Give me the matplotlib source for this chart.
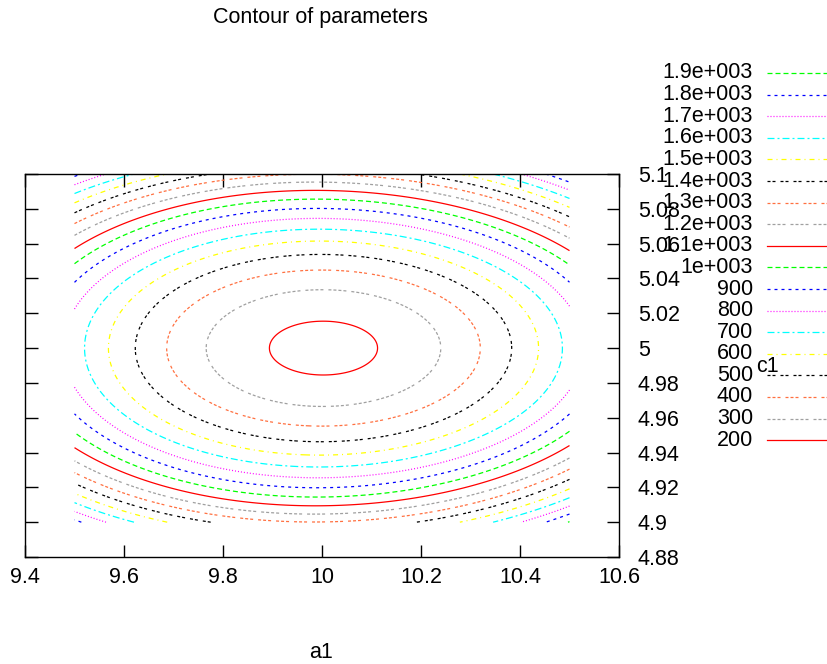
import numpy as np
import matplotlib
matplotlib.use("Agg")
import matplotlib.pyplot as plt
from matplotlib.lines import Line2D

plt.rcParams['font.family'] = ['Liberation Sans', 'DejaVu Sans']
plt.rcParams['lines.scale_dashes'] = False

# ---- data -------------------------------------------------------------
a1_range = [9.5, 10.5]
c1_range = [4.9, 5.1]
# quadratic-bowl parameters
z_min = 173.0
a1_center = 10.003
c1_center = 5.0
curv_a1 = 2262.0
curv_c1 = 113000.0
curv_c1_slope = 9100.0

levels = [200, 300, 400, 500, 600, 700, 800, 900, 1000, 1100,
          1200, 1300, 1400, 1500, 1600, 1700, 1800, 1900]
level_labels = ['200', '300', '400', '500', '600', '700', '800', '900', '1e+003',
                '1.1e+003', '1.2e+003', '1.3e+003', '1.4e+003', '1.5e+003',
                '1.6e+003', '1.7e+003', '1.8e+003', '1.9e+003']
x_ticks = [9.4, 9.6, 9.8, 10.0, 10.2, 10.4, 10.6]
x_tick_labels = ['9.4', '9.6', '9.8', '10', '10.2', '10.4', '10.6']
y_ticks = [4.88, 4.90, 4.92, 4.94, 4.96, 4.98, 5.00, 5.02, 5.04, 5.06, 5.08, 5.10]
y_tick_labels = ['4.88', '4.9', '4.92', '4.94', '4.96', '4.98', '5', '5.02',
                 '5.04', '5.06', '5.08', '5.1']

# ---- styles (gnuplot line types cycle) --------------------------------
px = 72.0 / 100.0
style_cycle = [
    ('#ff0000', None),
    ('#a0a0a0', (3, 2, 3, 2, 3, 2, 3, 5)),
    ('#ff7040', (3, 2, 3, 2, 3, 5)),
    ('#000000', (3, 2, 3, 5)),
    ('#ffff00', (5, 4, 1, 4)),
    ('#00ffff', (7, 3, 2, 3)),
    ('#ff00ff', (1, 2)),
    ('#0000ff', (3, 4)),
    ('#00ff00', (5, 3)),
]


def linestyle_for(i):
    color, dash = style_cycle[i % len(style_cycle)]
    if dash is None:
        return color, '-'
    return color, (0, tuple(d * px for d in dash))


W, H = 828, 664
fig = plt.figure(figsize=(W / 100, H / 100), dpi=100)
ax = fig.add_axes([25 / W, (H - 557) / H, 594 / W, 383 / H])

a = np.linspace(a1_range[0], a1_range[1], 301)
c = np.linspace(c1_range[0], c1_range[1], 301)
A, C = np.meshgrid(a, c)
Z = (z_min + curv_a1 * (A - a1_center) ** 2
     + (curv_c1 + curv_c1_slope * (A - 10.0)) * (C - c1_center) ** 2)

lw = 0.9
for i, lev in enumerate(levels):
    color, ls = linestyle_for(i)
    cs = ax.contour(A, C, Z, levels=[lev], colors=[color], linewidths=lw)
    cs.set_linestyle(ls)

ax.set_xlim(9.4, 10.6)
ax.set_ylim(4.88, 5.1)
ax.set_xticks(x_ticks)
ax.set_xticklabels(x_tick_labels)
ax.set_yticks(y_ticks)
ax.set_yticklabels(y_tick_labels)
fs = 15.5
ax.tick_params(direction='in', length=9, width=1, top=True, right=True,
               labelleft=False, labelright=True, labelsize=fs, colors='black')
ax.tick_params(axis='y', pad=13.5)
ax.tick_params(axis='x', pad=7)
for sp in ax.spines.values():
    sp.set_linewidth(1.0)
    sp.set_color('black')

fig.text(320 / W, 1 - 18 / H, 'Contour of parameters', ha='center', va='center', fontsize=fs)
fig.text(321 / W, 1 - 652 / H, 'a1', ha='center', va='center', fontsize=fs)
fig.text(767 / W, 1 - 367 / H, 'c1', ha='center', va='center', fontsize=fs)

# legend (gnuplot key, top entry = highest level)
for k, i in enumerate(reversed(range(len(levels)))):
    y = 1 - (73 + k * 21.6) / H
    color, ls = linestyle_for(i)
    fig.text(753 / W, y, level_labels[i], ha='right', va='center', fontsize=fs)
    fig.add_artist(Line2D([767 / W, 828 / W], [y, y], transform=fig.transFigure,
                          color=color, linestyle=ls, linewidth=lw))

fig.savefig('out.png', dpi=100)
